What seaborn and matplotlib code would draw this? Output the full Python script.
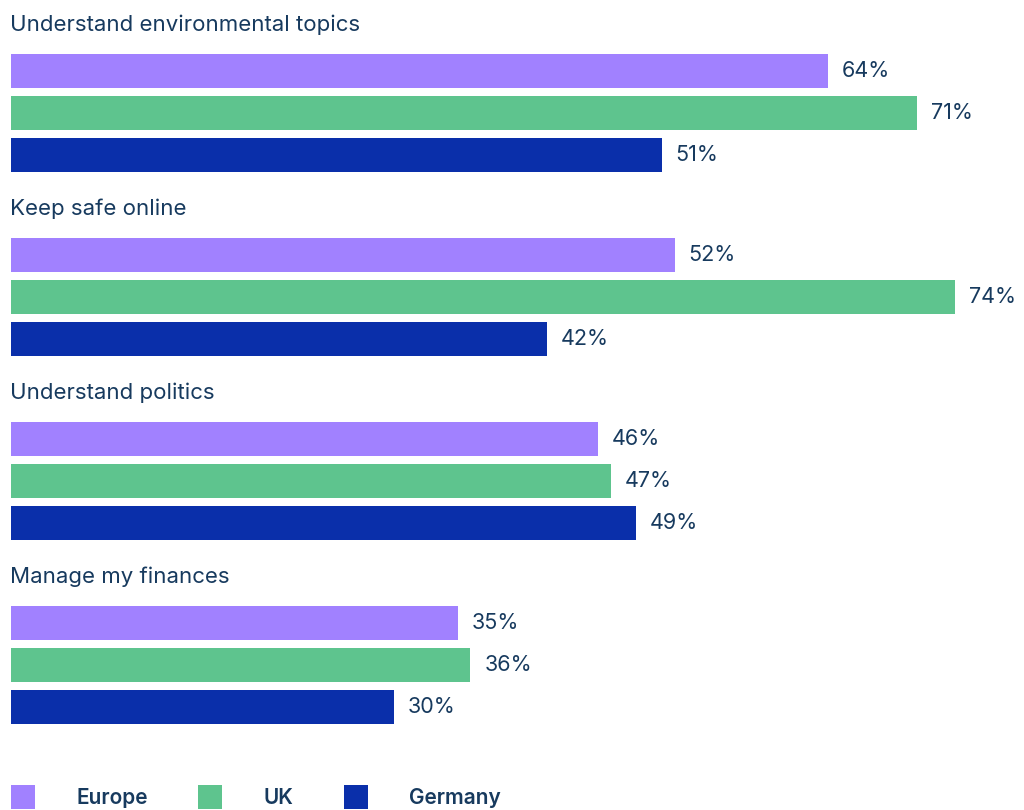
import pandas as pd
import matplotlib
matplotlib.use("Agg")
import matplotlib.pyplot as plt
import seaborn as sns
from matplotlib.patches import Patch

# Data
topics = ['Understand environmental topics', 'Keep safe online',
          'Understand politics', 'Manage my finances']
europe = [64, 52, 46, 35]
uk = [71, 74, 47, 36]
germany = [51, 42, 49, 30]
series = ['Europe', 'UK', 'Germany']
colors = ['#A181FF', '#5EC48E', '#0A2FAA']
text_color = '#173A5E'

df = pd.DataFrame({
    'topic': topics * 3,
    'region': ['Europe'] * 4 + ['UK'] * 4 + ['Germany'] * 4,
    'value': europe + uk + germany,
})

sns.set_theme(style='white')
plt.rcParams['font.family'] = ['Inter', 'DejaVu Sans']

fig = plt.figure(figsize=(10.24, 8.10), dpi=100)
ax = fig.add_axes([11 / 1024, 0, 1 - 11 / 1024, 1])

sns.barplot(data=df, y='topic', x='value', hue='region', order=topics,
            hue_order=series, palette=colors, orient='h', width=0.685,
            gap=0.19, legend=False, ax=ax, saturation=1, linewidth=0)

ax.set_xlim(0, (1024 - 11) / 12.76)
ax.set_ylim(3.788, -0.614)
ax.axis('off')

# value labels
for cont in ax.containers:
    ax.bar_label(cont, labels=[f'{v:.0f}%' for v in cont.datavalues],
                 padding=10, fontsize=15.5, color=text_color)

# group titles above each block
for i, t in enumerate(topics):
    ax.text(-0.1, i - 0.48, t, fontsize=16, color=text_color,
            va='center', ha='left')

handles = [Patch(facecolor=c, edgecolor='none') for c in colors]
fig.legend(handles, series, loc='lower left', bbox_to_anchor=(11 / 1024, 1 / 810),
           ncol=3, frameon=False, borderpad=0, borderaxespad=0,
           handlelength=1.15, handleheight=1.4,
           handletextpad=2.0, columnspacing=2.4,
           prop={'size': 15, 'weight': 'semibold'}, labelcolor=text_color)

fig.savefig('out.png', dpi=100)
